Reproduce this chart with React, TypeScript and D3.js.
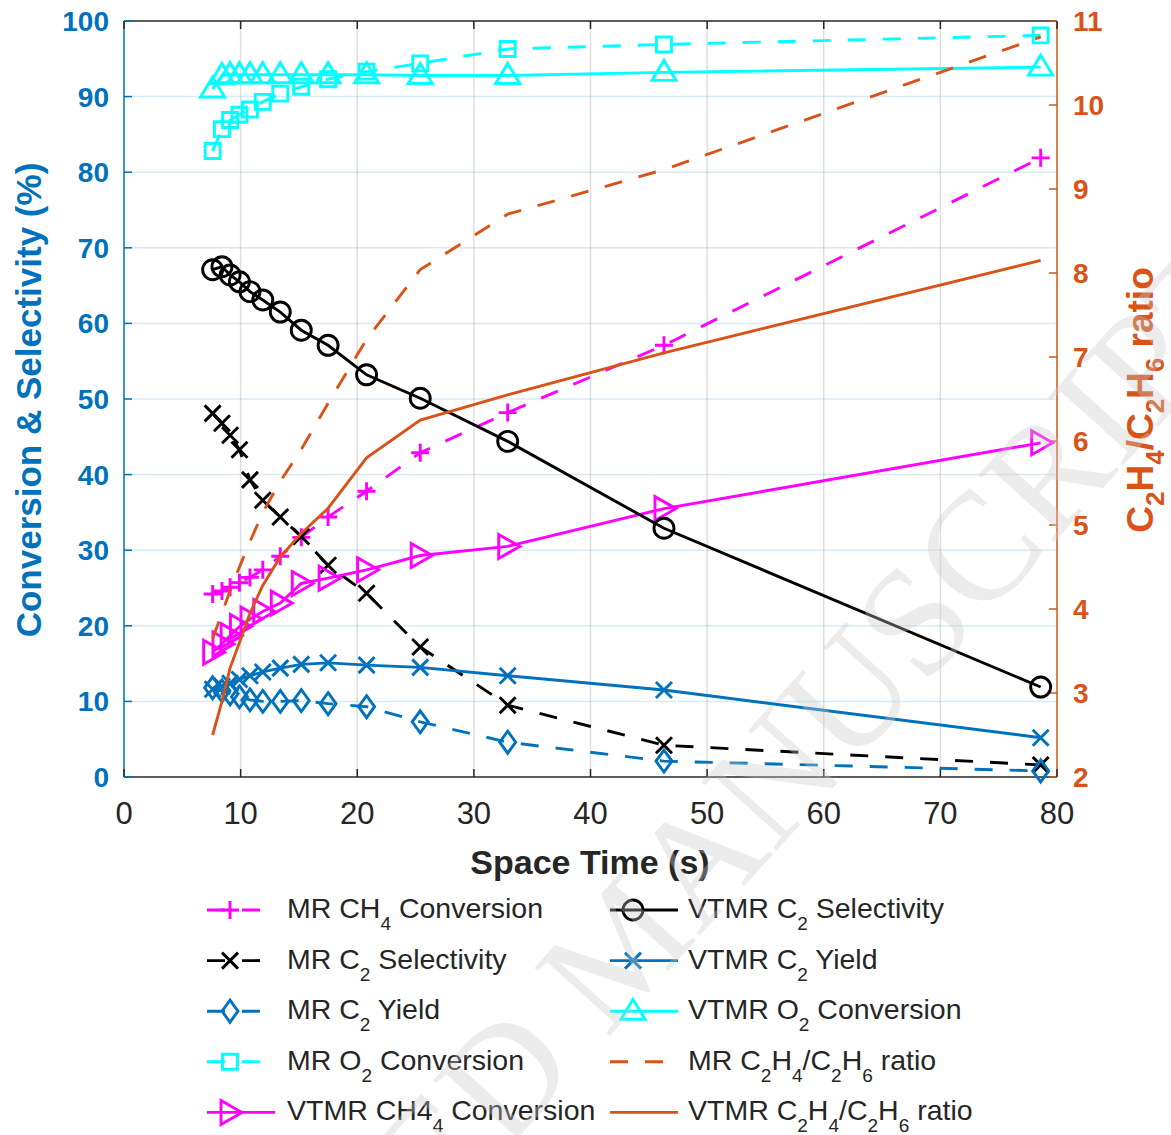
import React from "react";
import * as d3 from "d3";

// space time (s), shared by every series
const spaceTime = [7.6, 8.4, 9.1, 9.9, 10.8, 11.9, 13.4, 15.2, 17.5, 20.8, 25.4, 32.9, 46.3, 78.6];

// left axis: conversion & selectivity (%)
const mrCH4Conv = [24.2, 24.6, 25.1, 25.7, 26.4, 27.4, 29.2, 31.7, 34.4, 37.8, 42.9, 48.2, 57.1, 81.9];
const mrC2Sel = [48.1, 46.8, 45.2, 43.3, 39.3, 36.6, 34.4, 31.8, 28.0, 24.3, 17.2, 9.5, 4.2, 1.6];
const mrC2Yield = [11.8, 11.4, 11.0, 10.6, 10.2, 10.0, 10.0, 10.1, 9.7, 9.3, 7.3, 4.6, 2.1, 0.8];
const mrO2Conv = [82.8, 85.7, 86.9, 87.6, 88.3, 89.3, 90.4, 91.3, 92.3, 93.3, 94.4, 96.3, 96.9, 98.1];
const vtmrCH4Conv = [16.5, 17.6, 18.7, 19.9, 20.9, 21.9, 23.0, 25.6, 26.3, 27.4, 29.3, 30.5, 35.5, 44.2];
const vtmrC2Sel = [67.1, 67.5, 66.4, 65.5, 64.2, 63.1, 61.5, 59.1, 57.1, 53.2, 50.1, 44.4, 32.9, 11.9];
const vtmrC2Yield = [11.6, 12.0, 12.4, 12.9, 13.4, 13.9, 14.4, 14.9, 15.1, 14.8, 14.5, 13.4, 11.5, 5.2];
const vtmrO2Conv = [91.0, 92.8, 92.9, 92.9, 92.9, 92.9, 92.9, 92.9, 92.9, 92.9, 92.8, 92.8, 93.2, 93.9];

// right axis: C2H4/C2H6 ratio
const mrRatio = [3.65, 3.95, 4.22, 4.5, 4.8, 5.15, 5.52, 5.9, 6.45, 7.21, 8.04, 8.7, 9.23, 10.81];
const vtmrRatio = [2.5, 2.9, 3.3, 3.6, 3.95, 4.28, 4.62, 4.9, 5.2, 5.8, 6.25, 6.55, 7.05, 8.15];

const xTicks = [0, 10, 20, 30, 40, 50, 60, 70, 80];
const yLeftTicks = [0, 10, 20, 30, 40, 50, 60, 70, 80, 90, 100];
const yRightTicks = [2, 3, 4, 5, 6, 7, 8, 9, 10, 11];

const BLUE = "#0072BD";
const ORANGE = "#D95319";
const DARK = "#262626";
const FONT = "'Liberation Sans', Arial, Helvetica, sans-serif";

type Marker = "plus" | "x" | "diamond" | "square" | "triRight" | "circle" | "triUp" | "none";

interface Series {
  label: string;
  values: number[];
  color: string;
  dashed: boolean;
  marker: Marker;
  axis: "left" | "right";
}

// plot order == legend order (column major)
const series: Series[] = [
  { label: "MR CH_4 Conversion", values: mrCH4Conv, color: "#FF00FF", dashed: true, marker: "plus", axis: "left" },
  { label: "MR C_2 Selectivity", values: mrC2Sel, color: "#000000", dashed: true, marker: "x", axis: "left" },
  { label: "MR C_2 Yield", values: mrC2Yield, color: BLUE, dashed: true, marker: "diamond", axis: "left" },
  { label: "MR O_2 Conversion", values: mrO2Conv, color: "#00FFFF", dashed: true, marker: "square", axis: "left" },
  { label: "VTMR CH4_4 Conversion", values: vtmrCH4Conv, color: "#FF00FF", dashed: false, marker: "triRight", axis: "left" },
  { label: "VTMR C_2 Selectivity", values: vtmrC2Sel, color: "#000000", dashed: false, marker: "circle", axis: "left" },
  { label: "VTMR C_2 Yield", values: vtmrC2Yield, color: BLUE, dashed: false, marker: "x", axis: "left" },
  { label: "VTMR O_2 Conversion", values: vtmrO2Conv, color: "#00FFFF", dashed: false, marker: "triUp", axis: "left" },
  { label: "MR C_2H_4/C_2H_6 ratio", values: mrRatio, color: ORANGE, dashed: true, marker: "none", axis: "right" },
  { label: "VTMR C_2H_4/C_2H_6 ratio", values: vtmrRatio, color: ORANGE, dashed: false, marker: "none", axis: "right" },
];

const W = 1171;
const H = 1135;
const box = { left: 124, top: 21, right: 1057, bottom: 777 };

const markerPath = (m: Marker): string => {
  switch (m) {
    case "plus": return "M-9,0H9M0,-9V9";
    case "x": return "M-8,-8L8,8M-8,8L8,-8";
    case "diamond": return "M0,-11L8,0L0,11L-8,0Z";
    case "square": return "M-7.5,-7.5H7.5V7.5H-7.5Z";
    case "triRight": return "M-9,-12L12,0L-9,12Z";
    case "triUp": return "M-12,8L0,-12L12,8Z";
    case "circle": return "M-10,0A10,10 0 1,0 10,0A10,10 0 1,0 -10,0Z";
    default: return "";
  }
};

// "C_2H_4" -> text with subscripts
function Rich({ str, fs, subFs, drop }: { str: string; fs: number; subFs: number; drop: number }) {
  const parts = str.split(/_(\w)/);
  return (
    <>
      {parts.map((p, i) => {
        if (p === "") return null;
        if (i % 2 === 1) return <tspan key={i} fontSize={subFs} dy={drop}>{p}</tspan>;
        return <tspan key={i} fontSize={fs} dy={i === 0 ? 0 : -drop}>{p}</tspan>;
      })}
    </>
  );
}

export default function App() {
  const x = d3.scaleLinear().domain([0, 80]).range([box.left, box.right]);
  const yL = d3.scaleLinear().domain([0, 100]).range([box.bottom, box.top]);
  const yR = d3.scaleLinear().domain([2, 11]).range([box.bottom, box.top]);

  const lineFor = (s: Series) => {
    const y = s.axis === "left" ? yL : yR;
    return d3.line<number>()
      .x((_, i) => x(spaceTime[i]))
      .y((d) => y(d))(s.values) || "";
  };

  const dash = "18,17";
  const sw = 2.9;
  const legendRows = 5;

  return (
    <svg width={W} height={H} style={{ position: "absolute", left: 0, top: 0, background: "#fff" }} fontFamily={FONT}>
      {/* grid */}
      <g>
        {xTicks.slice(1, -1).map((t) => (
          <line key={"gx" + t} x1={x(t)} x2={x(t)} y1={box.top} y2={box.bottom} stroke={DARK} strokeOpacity={0.15} strokeWidth={1.5} />
        ))}
        {yLeftTicks.slice(1, -1).map((t) => (
          <line key={"gy" + t} x1={box.left} x2={box.right} y1={yL(t)} y2={yL(t)} stroke={BLUE} strokeOpacity={0.15} strokeWidth={1.5} />
        ))}
      </g>

      {/* axes box */}
      <g strokeWidth={1.5}>
        <line x1={box.left} x2={box.right} y1={box.top} y2={box.top} stroke={DARK} />
        <line x1={box.left} x2={box.right} y1={box.bottom} y2={box.bottom} stroke={DARK} />
        <line x1={box.left} x2={box.left} y1={box.top} y2={box.bottom} stroke={BLUE} />
        <line x1={box.right} x2={box.right} y1={box.top} y2={box.bottom} stroke={ORANGE} />
        {xTicks.map((t) => (
          <g key={"xt" + t}>
            <line x1={x(t)} x2={x(t)} y1={box.bottom} y2={box.bottom - 8} stroke={DARK} />
            <line x1={x(t)} x2={x(t)} y1={box.top} y2={box.top + 8} stroke={DARK} />
          </g>
        ))}
        {yLeftTicks.map((t) => (
          <line key={"yl" + t} x1={box.left} x2={box.left + 8} y1={yL(t)} y2={yL(t)} stroke={BLUE} />
        ))}
        {yRightTicks.map((t) => (
          <line key={"yr" + t} x1={box.right} x2={box.right - 8} y1={yR(t)} y2={yR(t)} stroke={ORANGE} />
        ))}
      </g>

      {/* tick labels */}
      <g fontSize={31} fill={DARK} textAnchor="middle">
        {xTicks.map((t) => (
          <text key={"xl" + t} x={x(t)} y={824}>{t}</text>
        ))}
      </g>
      <g fontSize={28} fontWeight="bold" fill={BLUE} textAnchor="end">
        {yLeftTicks.map((t) => (
          <text key={"yll" + t} x={109} y={yL(t) + 10}>{t}</text>
        ))}
      </g>
      <g fontSize={28} fontWeight="bold" fill={ORANGE} textAnchor="start">
        {yRightTicks.map((t) => (
          <text key={"yrl" + t} x={1073} y={yR(t) + 10}>{t}</text>
        ))}
      </g>

      {/* axis titles */}
      <text x={590} y={874} textAnchor="middle" fontSize={34} fontWeight="bold" fill={DARK}>Space Time (s)</text>
      <text transform="translate(41,400) rotate(-90)" textAnchor="middle" fontSize={35} fontWeight="bold" fill={BLUE}>
        Conversion &amp; Selectivity (%)
      </text>
      <text transform="translate(1153,400) rotate(-90)" textAnchor="middle" fontWeight="bold" fill={ORANGE} style={{ whiteSpace: "pre" }}>
        <Rich str="C_2H_4/C_2H_6 ratio" fs={37} subFs={26} drop={11} />
      </text>

      {/* data */}
      {series.map((s, si) => {
        const y = s.axis === "left" ? yL : yR;
        return (
          <g key={"s" + si}>
            <path d={lineFor(s)} fill="none" stroke={s.color} strokeWidth={sw} strokeDasharray={s.dashed ? dash : undefined} />
            {s.marker !== "none" && s.values.map((v, i) => (
              <path key={i} d={markerPath(s.marker)} transform={`translate(${x(spaceTime[i])},${y(v)})`}
                fill="none" stroke={s.color} strokeWidth={sw} />
            ))}
          </g>
        );
      })}

      {/* legend */}
      <g>
        {series.map((s, i) => {
          const col = Math.floor(i / legendRows);
          const row = i % legendRows;
          const x0 = col === 0 ? 207 : 610;
          const tx = col === 0 ? 287 : 688;
          const base = 918 + row * 50.6;
          const ly = base - 8;
          return (
            <g key={"lg" + i}>
              <line x1={x0} x2={x0 + 68} y1={ly} y2={ly} stroke={s.color} strokeWidth={sw} strokeDasharray={s.dashed ? dash : undefined} />
              {s.marker !== "none" && (
                <path d={markerPath(s.marker)} transform={`translate(${x0 + 23},${ly})`} fill="none" stroke={s.color} strokeWidth={sw} />
              )}
              <text x={tx} y={base} fill={DARK} style={{ whiteSpace: "pre" }}>
                <Rich str={s.label} fs={28.5} subFs={19} drop={12} />
              </text>
            </g>
          );
        })}
      </g>

      {/* watermark */}
      <text transform="translate(660,980) rotate(-48)" textAnchor="middle" fontFamily="'Liberation Serif', 'Times New Roman', serif"
        fontSize={155} fill="#c8c8c8" fillOpacity={0.35}>
        ACCEPTED MANUSCRIPT
      </text>
    </svg>
  );
}
